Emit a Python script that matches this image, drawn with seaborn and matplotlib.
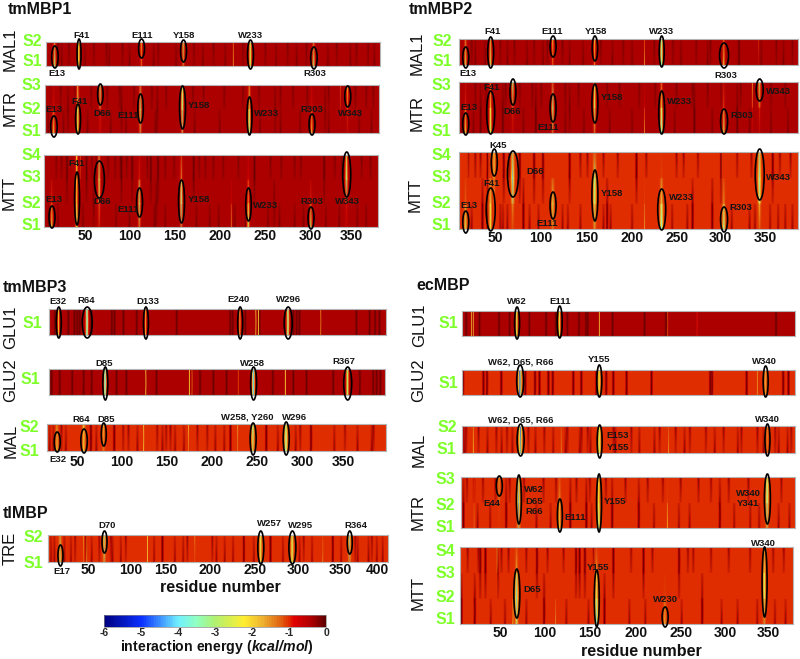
import numpy as np
import matplotlib
matplotlib.use('Agg')
import matplotlib.pyplot as plt
from matplotlib.colors import LinearSegmentedColormap, Normalize
from matplotlib.cm import ScalarMappable
from matplotlib.patches import Ellipse
import seaborn as sns

# ---------- values (kcal/mol, by residue and state) ----------
DARK = -0.08
N_RES = 420

# tmMBP1
t1_mal1_base = -0.42
t1_mal1_hot = {14: [-3.2, -1.2], 41: [-2.6, -2.2], 111: [-0.9, -2.0], 158: [-1.0, -3.0],
               233: [-2.8, -2.6], 304: [-3.2, -1.0], 214: [-1.7, -1.0]}
t1_mal1_dark = [[22, 48, 75, 98, 125, 150, 180, 205, 262, 285, 320, 345, 372],
                [18, 30, 58, 72, 90, 130, 170, 192, 225, 250, 275, 296, 330, 352, 365]]
t1_mtr_base = -0.42
t1_mtr_hot = {14: [-2.4, -0.9, -0.4], 41: [-2.4, -2.8, -1.4], 66: [-0.5, -1.0, -3.2],
              111: [-1.0, -3.2, -0.9], 158: [-1.2, -3.5, -2.2], 233: [-3.4, -2.6, -1.0],
              303: [-2.2, -0.9, -0.4], 343: [-0.4, -1.0, -2.0], 335: [-0.4, -0.6, -1.2]}
t1_mtr_dark = [[8, 25, 52, 78, 95, 128, 172, 200, 245, 268, 290, 322, 356, 370],
               [30, 90, 130, 262, 318],
               [12, 22, 38, 56, 74, 88, 104, 124, 140, 170, 182, 205, 226, 244, 268, 282,
                298, 322, 352, 364, 372]]
t1_mtt_base = -0.42
t1_mtt_hot = {13: [-2.4, -1.1, -0.4, -0.4], 41: [-3.0, -2.0, -2.0, -2.0], 45: [-0.4, -0.4, -0.6, -1.2],
              66: [-0.5, -1.6, -3.2, -1.0], 111: [-1.0, -3.2, -1.0, -0.4], 158: [-1.0, -3.6, -1.8, -0.5],
              233: [-3.0, -1.8, -0.8, -0.4], 303: [-3.0, -1.0, -0.4, -0.4], 343: [-0.5, -0.9, -3.3, -1.8],
              214: [-1.6, -0.8, -0.4, -0.4]}
t1_mtt_dark = [[10, 20, 48, 85, 100, 128, 140, 175, 190, 200, 218, 230, 255, 268, 285, 295, 320, 335, 355, 365],
               [60, 130, 262],
               [30, 52, 91, 103, 124, 132, 172, 240, 318],
               [18, 24, 30, 52, 58, 63, 76, 84, 90, 91, 97, 103, 120, 124, 132, 140, 150, 172, 178,
                185, 194, 205, 222, 240, 258, 270, 285, 292, 318, 330, 338, 360, 370]]

# tmMBP2
t2_mal1_base = -0.42
t2_mal1_hot = {13: [-2.8, -1.0], 41: [-2.8, -1.3], 111: [-1.0, -2.0], 158: [-1.2, -2.0],
               233: [-3.6, -3.0], 303: [-2.4, -0.9], 214: [-1.7, -0.9], 342: [-0.4, -1.0]}
t2_mal1_dark = [[24, 35, 60, 82, 100, 130, 145, 178, 200, 255, 285, 320, 345, 370],
                [20, 52, 68, 90, 105, 122, 165, 190, 225, 246, 272, 288, 320, 362, 380]]
t2_mtr_base = -0.42
t2_mtr_hot = {13: [-2.6, -1.0, -0.4], 41: [-3.0, -2.2, -0.9], 66: [-0.5, -1.0, -3.2],
              111: [-1.0, -3.2, -0.9], 158: [-1.0, -2.8, -2.0], 233: [-3.8, -2.4, -0.9],
              303: [-3.0, -1.2, -0.4], 343: [-0.4, -1.0, -3.0], 335: [-0.4, -0.9, -1.8],
              214: [-1.7, -0.8, -0.4]}
t2_mtr_dark = [[9, 22, 30, 55, 78, 92, 125, 146, 175, 200, 248, 270, 290, 318, 332, 356, 375],
               [30, 55, 92, 130, 270, 318],
               [14, 24, 36, 58, 74, 88, 98, 125, 140, 172, 186, 208, 226, 250, 268, 285, 300, 322, 356, 372]]
t2_mtt_base = -1.0
t2_mtt_hot = {13: [-2.6, -1.3, -1.0, -1.0], 41: [-2.0, -2.4, -1.1, -1.0], 45: [-1.0, -1.1, -1.6, -2.0],
              66: [-1.0, -1.6, -4.2, -1.6], 111: [-1.1, -2.6, -1.0, -1.0], 158: [-1.3, -2.8, -3.2, -1.0],
              233: [-4.0, -2.4, -1.1, -1.0], 303: [-3.6, -1.6, -1.0, -1.0], 343: [-1.0, -2.0, -4.0, -1.6],
              214: [-1.7, -1.1, -1.0, -1.0]}
t2_mtt_dark = [[20, 32, 38, 52, 55, 60, 78, 85, 95, 122, 128, 142, 168, 172, 176, 200, 245, 262, 268, 290, 312,
                332, 338, 355, 364, 372, 380],
               [32, 78, 172, 268, 290],
               [38, 56, 66, 74, 90, 100, 130, 205, 300, 358],
               [16, 24, 30, 38, 56, 62, 74, 90, 100, 112, 130, 142, 150, 168, 184, 205, 216, 250, 258, 274, 300,
                318, 334, 358, 366, 378]]

# tmMBP3
t3_glu1_base = -0.42
t3_glu1_hot = {27: [-1.9], 59: [-4.0], 125: [-1.7], 231: [-1.7], 285: [-3.3], 249: [-1.7], 252: [-1.9], 322: [-1.4]}
t3_glu1_dark = [23, 38, 45, 48, 51, 64, 87, 90, 100, 115, 160, 220, 223, 237, 253, 291, 295, 298, 362, 377, 383, 388]
t3_glu2_base = -0.42
t3_glu2_hot = {80: [-4.0], 247: [-4.2], 353: [-3.0], 126: [-1.8], 175: [-1.9], 178: [-1.2],
               230: [-1.1], 283: [-2.0]}
t3_glu2_dark = [18, 20, 29, 43, 56, 65, 93, 104, 138, 187, 202, 217, 269, 292, 307, 337, 367, 382, 386, 390]
t3_mal_base = -1.0
t3_mal_hot = {28: [-2.4, -1.2], 58: [-2.0, -1.9], 80: [-1.1, -2.0], 247: [-1.8, -3.4], 284: [-3.7, -2.8],
              125: [-1.8, -1.7], 175: [-1.1, -2.0], 230: [-1.2, -1.6]}
t3_mal_dark = [[20, 24, 26, 38, 66, 72, 92, 118, 146, 160, 170, 205, 215, 222, 262, 275, 295, 312, 338, 364, 380],
               [33, 66, 92, 102, 108, 140, 150, 155, 185, 196, 222, 262, 300, 312, 350, 382]]

# tlMBP
tl_tre_base = -1.0
tl_tre_hot = {17: [-3.2, -1.2], 70: [-1.2, -3.6], 258: [-2.0, -2.6], 296: [-2.6, -2.6], 365: [-1.1, -3.8],
              122: [-1.8, -1.9], 45: [-1.1, -1.6], 49: [-1.6, -1.0], 179: [-1.0, -1.6], 333: [-1.6, -1.0]}
tl_tre_dark = [[6, 10, 22, 30, 55, 80, 90, 130, 140, 155, 165, 205, 215, 225, 238, 250, 270, 285, 305, 320,
                345, 355, 375, 388, 398, 405],
               [18, 35, 48, 64, 78, 96, 140, 170, 200, 238, 270, 310, 345, 372, 392]]

# ecMBP
ec_glu1_base = -0.42
ec_glu1_hot = {67: [-2.6], 115: [-2.5], 16: [-1.6], 18: [-1.6], 160: [-1.7], 237: [-1.1], 270: [-0.9]}
ec_glu1_dark = [10, 25, 47, 59, 81, 100, 111, 124, 137, 145, 147, 175, 211, 235, 359]
ec_glu2_base = -1.0
ec_glu2_hot = {71: [-5.0], 160: [-2.3], 347: [-1.6], 338: [-1.5]}
ec_glu2_dark = [7, 30, 34, 50, 77, 88, 93, 103, 108, 131, 140, 157, 168, 176, 191, 219, 285, 287, 326, 367, 373]
ec_mal_base = -1.0
ec_mal_hot = {71: [-3.0, -5.0], 160: [-2.7, -2.6], 349: [-1.2, -1.6], 18: [-2.1, -1.1], 117: [-1.6, -1.0],
              238: [-1.8, -1.0]}
ec_mal_dark = [[8, 34, 50, 62, 88, 108, 122, 138, 150, 178, 205, 222, 256, 290, 316, 345, 362, 372],
               [6, 10, 24, 44, 56, 80, 98, 124, 140, 147, 176, 196, 228, 246, 262, 280, 300, 320, 338, 358, 376]]
ec_mtr_base = -1.0
ec_mtr_hot = {48: [-1.0, -1.1, -1.7], 70: [-1.4, -4.4, -2.0], 116: [-2.0, -1.6, -1.0], 160: [-3.4, -2.2, -2.2],
              349: [-1.3, -3.8, -2.4], 20: [-1.4, -1.0, -1.0], 237: [-2.0, -1.1, -1.0]}
ec_mtr_dark = [[8, 24, 38, 56, 90, 106, 128, 146, 152, 175, 205, 222, 250, 262, 296, 312, 330, 340, 362, 374],
               [8, 56, 128, 146, 175, 205, 296],
               [12, 20, 30, 44, 60, 76, 98, 112, 135, 150, 168, 190, 215, 232, 252, 272, 286, 306, 328, 365]]
ec_mtt_base = -1.0
ec_mtt_hot = {69: [-1.8, -4.2, -1.9, -1.0], 159: [-4.2, -2.6, -1.8, -0.9], 236: [-2.0, -1.1, -1.0, -1.0],
              348: [-1.1, -2.8, -2.4, -1.2], 47: [-1.0, -1.0, -1.0, -1.6], 65: [-2.2, -1.1, -1.0, -1.0],
              113: [-1.6, -1.0, -1.0, -1.0], 350: [-1.0, -1.0, -1.0, -1.6]}
ec_mtt_dark = [[6, 7, 22, 40, 56, 80, 100, 125, 150, 168, 196, 214, 255, 278, 300, 318, 340, 360, 372],
               [6, 7, 22, 100, 168, 278],
               [28, 34, 48, 92, 136, 140, 146, 178, 212, 252],
               [14, 26, 28, 34, 52, 60, 80, 92, 104, 122, 136, 140, 146, 156, 178, 198, 212, 222, 252, 262, 268,
                288, 308, 332, 358, 370]]

tick_labels = [50, 100, 150, 200, 250, 300, 350]
cbar_ticks = [-6, -5, -4, -3, -2, -1, 0]

# ---------- layout, in pixels of the 800x659 picture ----------
# rect = left, right, top, bottom; ovals = residue, top, bottom, width; notes = text, x, y
panels = [
    dict(rect=(46, 380, 42, 66), xlim=(4, 378), base=t1_mal1_base, hot=t1_mal1_hot, dark=t1_mal1_dark,
         ovals=[(14, 46, 68, 6.5), (41, 39, 69, 4), (111, 39, 58, 6), (158, 40, 62, 6), (233, 40, 69, 6), (304, 47, 69, 6.5)],
         notes=[('E13', 57, 73), ('F41', 82, 35), ('E111', 142, 36), ('Y158', 184, 36), ('W233', 251, 36), ('R303', 315, 74)]),
    dict(rect=(45, 379, 85, 133), xlim=(4, 378), base=t1_mtr_base, hot=t1_mtr_hot, dark=t1_mtr_dark,
         ovals=[(14, 116, 137, 6.5), (41, 104, 134, 5), (66, 84, 105, 5.5), (111, 94, 123, 5.5), (158, 86, 129, 6),
                (233, 97, 135, 5), (303, 114, 135, 6), (343, 86, 107, 6)],
         notes=[('E13', 54, 109), ('F41', 80, 101), ('D66', 102, 113), ('E111', 128, 115), ('Y158', 199, 106),
                ('W233', 267, 113), ('R303', 312, 110), ('W343', 350, 113)]),
    dict(rect=(44, 378, 155, 227), xlim=(4, 378), base=t1_mtt_base, hot=t1_mtt_hot, dark=t1_mtt_dark,
         ticks=[85, 130, 175, 220, 265, 310, 351], pad=2,
         ovals=[(13, 206, 228, 6), (41, 172, 225, 5), (66, 161, 198, 10), (111, 188, 217, 6), (158, 180, 223, 6),
                (233, 188, 221, 5.5), (303, 207, 229, 6), (343, 152, 197, 8)],
         notes=[('E13', 54, 200), ('F41', 77, 164), ('D66', 102, 202), ('E111', 128, 209), ('Y158', 199, 200),
                ('W233', 266, 205), ('R303', 312, 201), ('W343', 347, 202)]),
    dict(rect=(459, 798, 39, 65), xlim=(5.4, 386), base=t2_mal1_base, hot=t2_mal1_hot, dark=t2_mal1_dark,
         ovals=[(13, 47, 68, 6), (41, 37, 68, 6), (111, 36, 57, 6), (158, 36, 61, 5.5), (233, 36, 67, 5), (303, 43, 68, 9)],
         notes=[('E13', 468, 74), ('F41', 493, 32), ('E111', 552, 32), ('Y158', 596, 32), ('W233', 662, 32), ('R303', 726, 75)]),
    dict(rect=(459, 798, 82, 133), xlim=(5.4, 386), base=t2_mtr_base, hot=t2_mtr_hot, dark=t2_mtr_dark,
         ovals=[(13, 113, 135, 6), (41, 91, 134, 8), (66, 79, 105, 6), (111, 94, 122, 6), (158, 84, 123, 6),
                (233, 91, 134, 6), (303, 109, 134, 7), (343, 79, 101, 7)],
         notes=[('E13', 469, 107), ('F41', 492, 87), ('D66', 512, 111), ('E111', 548, 127), ('Y158', 612, 97),
                ('W233', 680, 102), ('R303', 742, 115), ('W343', 778, 92)]),
    dict(rect=(459, 798, 152, 229), xlim=(5.4, 386), base=t2_mtt_base, hot=t2_mtt_hot, dark=t2_mtt_dark,
         ticks=[495, 541, 587, 632, 677, 720, 765], pad=2,
         ovals=[(45, 149, 176, 6), (66, 151, 197, 11), (13, 211, 233, 6), (41, 188, 231, 9), (111, 192, 219, 6),
                (158, 170, 221, 6), (233, 189, 230, 8), (303, 207, 232, 7), (343, 149, 200, 9)],
         notes=[('K45', 498, 145), ('D66', 535, 172), ('E13', 469, 205), ('F41', 492, 183), ('E111', 547, 223),
                ('Y158', 612, 194), ('W233', 682, 198), ('R303', 741, 207), ('W343', 778, 178)]),
    dict(rect=(49, 386, 309, 335), xlim=(16, 395), base=t3_glu1_base, hot=t3_glu1_hot, dark=t3_glu1_dark,
         ovals=[(27, 307, 338, 5), (59, 307, 338, 10), (125, 307, 339, 5), (231, 307, 339, 5), (285, 307, 339, 8)],
         notes=[('E32', 58, 302), ('R64', 86, 301), ('D133', 148, 302), ('E240', 239, 300), ('W296', 289, 300)]),
    dict(rect=(48.5, 385, 369, 395), xlim=(16, 395), base=t3_glu2_base, hot=t3_glu2_hot, dark=t3_glu2_dark,
         ovals=[(80, 367, 400, 5), (247, 367, 400, 6), (353, 367, 400, 8)],
         notes=[('D85', 104, 363), ('W258', 252, 363), ('R367', 344, 362)]),
    dict(rect=(46.5, 385.5, 424, 451), xlim=(16, 395), base=t3_mal_base, hot=t3_mal_hot, dark=t3_mal_dark,
         ticks=[77, 122, 167, 212, 257, 302, 343], pad=4,
         ovals=[(28, 432, 452, 6), (58, 429, 453, 6.5), (80, 423, 446, 5), (247, 423, 455, 6), (284, 422, 455, 6)],
         notes=[('E32', 58, 459), ('R64', 81, 420), ('D85', 106, 419), ('W258, Y260', 247, 417), ('W296', 295, 417)]),
    dict(rect=(48, 388, 535, 562), xlim=(2, 411), base=tl_tre_base, hot=tl_tre_hot, dark=tl_tre_dark,
         ticks=[88, 131, 166, 210, 255, 298, 340, 377], pad=1,
         ovals=[(17, 545, 566, 5), (70, 531, 553, 5), (258, 531, 564, 6), (296, 531, 564, 7), (365, 531, 554, 5)],
         notes=[('E17', 62, 571), ('D70', 107, 526), ('W257', 269, 524), ('W295', 301, 525), ('R364', 356, 525)]),
    dict(rect=(462, 795, 311, 336), xlim=(5, 380), base=ec_glu1_base, hot=ec_glu1_hot, dark=ec_glu1_dark,
         ovals=[(67, 307, 339, 5), (115, 306, 338, 5)],
         notes=[('W62', 517, 302), ('E111', 560, 302)]),
    dict(rect=(461.5, 795, 370, 395), xlim=(5, 380), base=ec_glu2_base, hot=ec_glu2_hot, dark=ec_glu2_dark,
         ovals=[(71, 365, 397, 7), (160, 365, 397, 5), (347, 366, 397, 5)],
         notes=[('W62, D65, R66', 521, 362), ('Y155', 599, 360), ('W340', 764, 362)]),
    dict(rect=(462, 795, 426, 453), xlim=(5, 380), base=ec_mal_base, hot=ec_mal_hot, dark=ec_mal_dark,
         ovals=[(71, 424, 456, 7), (160, 425, 458, 5), (349, 424, 456, 5)],
         notes=[('W62, D65, R66', 521, 420), ('E153', 618, 436), ('Y155', 618, 447), ('W340', 767, 419)]),
    dict(rect=(461, 795, 477, 528), xlim=(5, 380), base=ec_mtr_base, hot=ec_mtr_hot, dark=ec_mtr_dark,
         ovals=[(48, 476, 496, 6), (70, 475, 524, 5), (116, 499, 532, 5), (160, 474, 532, 5), (349, 474, 524, 6)],
         notes=[('E44', 492, 503), ('W62', 534, 490), ('D65', 534, 501), ('R66', 534, 511), ('E111', 575, 518),
                ('Y155', 615, 502), ('W340', 748, 493), ('Y341', 748, 504)]),
    dict(rect=(460, 793, 547, 624), xlim=(5, 380), base=ec_mtt_base, hot=ec_mtt_hot, dark=ec_mtt_dark,
         ticks=[500, 545, 590, 636, 681, 725, 768], pad=2,
         ovals=[(69, 569, 618, 6), (159, 570, 627, 5), (236, 607, 627, 6), (348, 547, 617, 5)],
         notes=[('D65', 532, 589), ('Y155', 598, 567), ('W230', 665, 600), ('W340', 763, 543)]),
]

# text, x, y
titles = [('tmMBP1', 8, 10), ('tmMBP2', 409, 10), ('tmMBP3', 3, 287), ('tlMBP', 3, 513), ('ecMBP', 416, 285)]
ligands = [('MAL1', 10, 49), ('MTR', 10, 108), ('MTT', 9, 193),
           ('MAL1', 417, 53), ('MTR', 417, 113), ('MTT', 415, 195),
           ('GLU1', 11, 327), ('GLU2', 11, 380), ('MAL', 11, 441), ('TRE', 10, 548),
           ('GLU1', 420, 325), ('GLU2', 419, 380), ('MAL', 419, 450), ('MTR', 418, 512), ('MTT', 418, 593)]
sites = [('S2', 32, 41), ('S1', 32, 62), ('S3', 31, 85), ('S2', 31, 109), ('S1', 31, 131),
         ('S4', 31, 155), ('S3', 31, 178), ('S2', 31, 203), ('S1', 31, 225),
         ('S2', 442, 41), ('S1', 442, 62), ('S3', 441, 85), ('S2', 441, 109), ('S1', 441, 131),
         ('S4', 441, 155), ('S3', 441, 178), ('S2', 441, 203), ('S1', 441, 225),
         ('S1', 32, 324), ('S1', 30, 379), ('S2', 29, 427), ('S1', 29, 452), ('S2', 33, 538), ('S1', 33, 564),
         ('S1', 448, 323), ('S1', 448, 383), ('S2', 447, 427), ('S1', 446, 449),
         ('S3', 445, 480), ('S2', 445, 505), ('S1', 445, 527),
         ('S4', 445, 551), ('S3', 445, 573), ('S2', 445, 597), ('S1', 445, 620)]

# ---------- drawing ----------
sns.set_theme(style='white')
plt.rcParams['font.family'] = ['Liberation Sans', 'DejaVu Sans']
plt.rcParams['mathtext.fontset'] = 'custom'
plt.rcParams['mathtext.bfit'] = 'Liberation Sans:italic:bold'
plt.rcParams['mathtext.rm'] = 'Liberation Sans:bold'

W, H = 800, 659
cmap = LinearSegmentedColormap.from_list('energy', [
    (0.0, '#00007f'), (1 / 6, '#0a30ff'), (2 / 6, '#70f0ff'), (2.5 / 6, '#90ffc0'),
    (3 / 6, '#b0f070'), (3.8 / 6, '#ffee30'), (4.3 / 6, '#eeb030'), (4.8 / 6, '#e06010'),
    (5.0 / 6, '#e03000'), (5.15 / 6, '#e00000'), (5.6 / 6, '#b00000'), (1.0, '#600000')], N=128)

fig = plt.figure(figsize=(W / 100, H / 100), dpi=100)


def px_axes(left, right, top, bottom):
    return fig.add_axes([left / W, 1 - bottom / H, (right - left) / W, (bottom - top) / H])


def put(s, x, y, **kw):
    kw.setdefault('ha', 'center')
    kw.setdefault('va', 'center')
    fig.text(x / W, 1 - y / H, s, **kw)


def build(base, hot, dark, oval_res):
    # the source picture is soft: marks bleed into the next residues
    n_states = len(next(iter(hot.values())))
    m = np.full((n_states, N_RES), float(base))
    rows = dark if n_states > 1 else [dark]
    for i, residues in enumerate(rows):
        for r in residues:
            m[i, r - 2] = m[i, r] = (base + DARK) / 2
    for i, residues in enumerate(rows):
        for r in residues:
            m[i, r - 1] = DARK
    for r, vals in hot.items():
        vals = np.array(vals, dtype=float)
        if r in oval_res:
            m[:, r - 3] = base + 0.1 * (vals - base)
            m[:, r + 1] = base + 0.1 * (vals - base)
            m[:, r - 2] = base + 0.38 * (vals - base)
            m[:, r] = base + 0.38 * (vals - base)
        m[:, r - 1] = vals
    return m


for p in panels:
    left, right, top, bottom = p['rect']
    x0, x1 = p['xlim']
    ax = px_axes(left, right, top, bottom)
    m = build(p['base'], p['hot'], p['dark'], [o[0] for o in p['ovals']])
    sns.heatmap(m, ax=ax, cmap=cmap, vmin=-6, vmax=0, cbar=False, xticklabels=False, yticklabels=False)
    ns = m.shape[0]
    # states sit on the panel edges and blend between rows, as in the original shading
    if ns > 1:
        ax.pcolormesh(np.arange(N_RES) + 0.5, np.arange(ns) + 0.5, m, shading='gouraud',
                      cmap=cmap, vmin=-6, vmax=0)
        ax.set_ylim(0.5, ns - 0.5)
    else:
        ax.pcolormesh(np.arange(N_RES) + 0.5, [0, 1], np.vstack([m, m]), shading='gouraud',
                      cmap=cmap, vmin=-6, vmax=0)
        ax.set_ylim(0, 1)
    ax.set_xlim(x0 - 0.5, x1 - 0.5)
    scale = (x1 - x0) / (right - left)
    ax.set_yticks([])
    if 'ticks' in p:
        labs = tick_labels if len(p['ticks']) == 7 else tick_labels + [400]
        ax.set_xticks([x0 - 0.5 + (t - left) * scale for t in p['ticks']])
        ax.set_xticklabels(labs, fontsize=10, fontweight='bold', color='#111111')
        ax.tick_params(axis='x', length=0, pad=p['pad'] * 0.72)
    else:
        ax.set_xticks([])
    for s in ax.spines.values():
        s.set_visible(True)
        s.set_color('#b4b4b4')
        s.set_linewidth(0.8)
    for r, t, b, w in p['ovals']:
        cx = left + (r - x0) / scale
        fig.add_artist(Ellipse((cx / W, 1 - (t + b) / 2 / H), w / W, (b - t) / H, transform=fig.transFigure,
                               fill=False, ec='black', lw=1.2, zorder=5))
    for s, x, y in p['notes']:
        put(s, x, y, fontsize=6.8, fontweight='bold', color='#151515', zorder=6)

for s, x, y in titles:
    put(s, x, y, ha='left', fontsize=11.5, fontweight='bold', color='#111111')
for s, x, y in ligands:
    put(s, x, y, rotation=90, fontsize=12, color='#111111')
for s, x, y in sites:
    put(s, x, y, fontsize=11.5, fontweight='bold', color='#7fff2a')

put('residue number', 220, 588, fontsize=11.6, fontweight='bold', color='#111111')
put('residue number', 641, 651, fontsize=11.6, fontweight='bold', color='#111111')

cax = px_axes(104, 326, 615, 627)
cb = fig.colorbar(ScalarMappable(Normalize(-6, 0), cmap), cax=cax, orientation='horizontal')
cb.set_ticks(cbar_ticks)
cb.set_ticklabels([str(t) for t in cbar_ticks], fontsize=7.5, fontweight='bold')
cb.ax.tick_params(length=0, pad=0.5)
cb.outline.set_edgecolor('#888888')
cb.outline.set_linewidth(0.5)
put(r'interaction energy ($\mathbfit{kcal/mol}$)', 217, 647, fontsize=10.2, fontweight='bold', color='#111111')

fig.savefig('out.png', dpi=100)
